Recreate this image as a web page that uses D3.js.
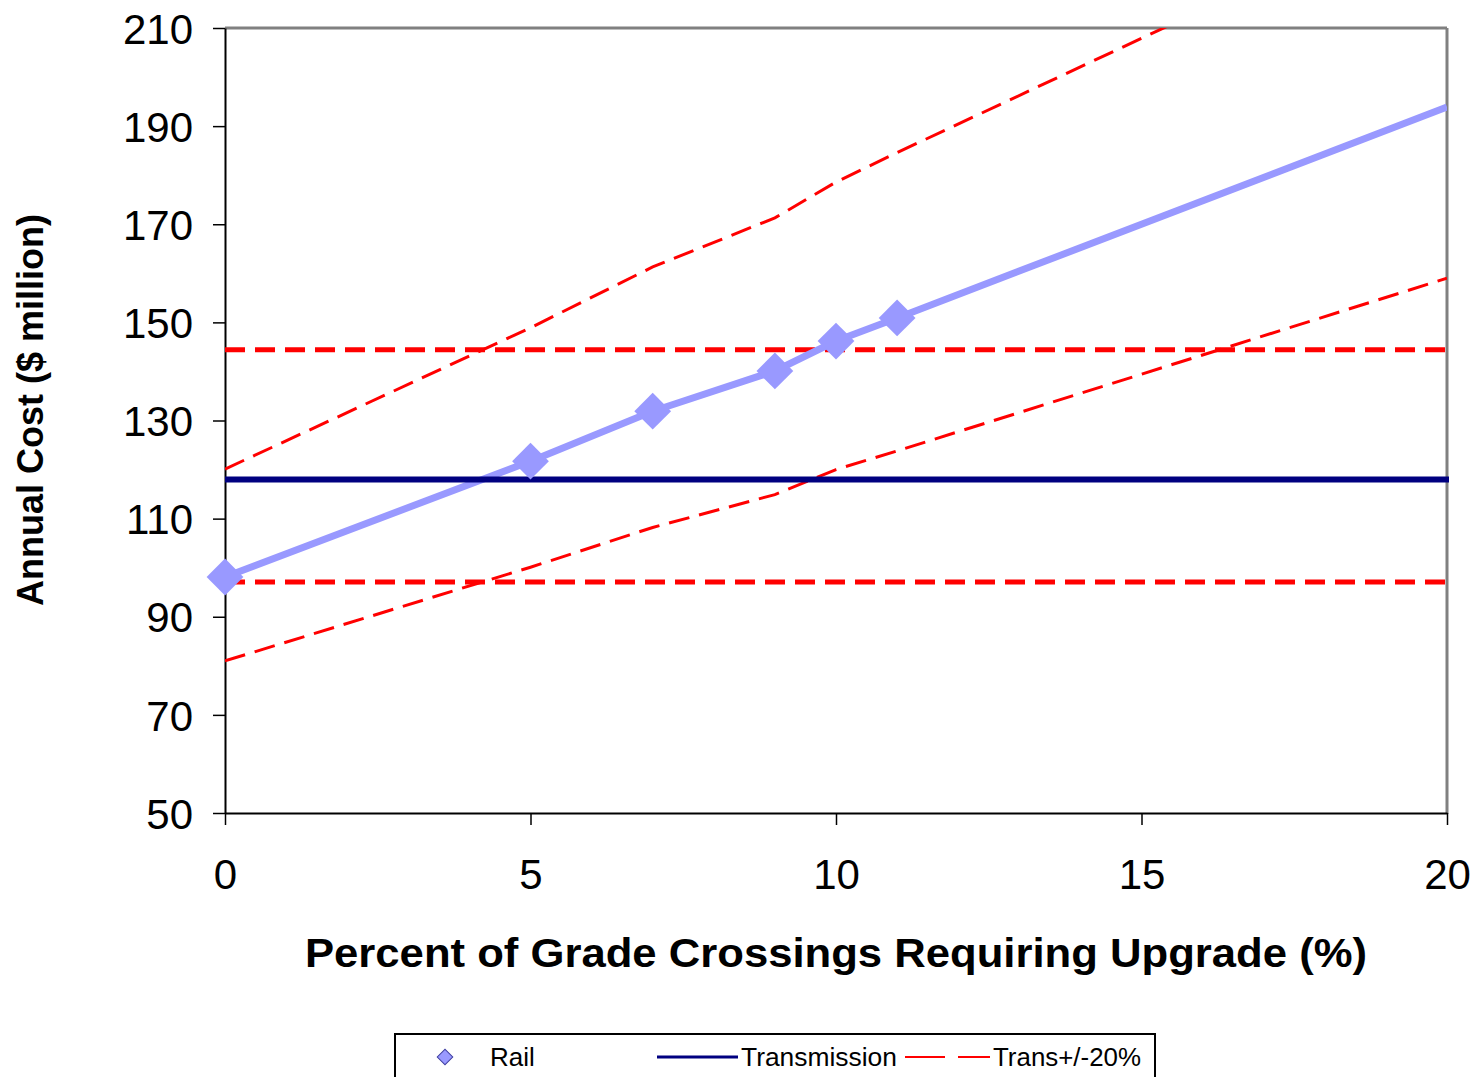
<!DOCTYPE html>
<html>
<head>
<meta charset="utf-8">
<script src="https://cdn.jsdelivr.net/npm/d3@7"></script>
<style>
body { margin: 0; background: #fff; }
svg { display: block; font-family: "Liberation Sans", Arial, sans-serif; }
</style>
</head>
<body>
<svg id="chart" width="1478" height="1077"></svg>
<script>
// data
var pct = [0, 5, 7, 9, 10, 11, 20];
var rail = [98.1, 121.7, 131.9, 140.1, 146.2, 150.9, 193.9];
var rail_markers = 6; // the point at 20 has no marker
var trans_up = [120.1, 148.9, 161.3, 171.3, 178.6, 184.6, 237.0];
var trans_down = [81.0, 100.1, 108.2, 114.9, 120.0, 123.8, 159.0];
var transmission = 118.0;
var trans_plus = 144.4;
var trans_minus = 97.1;
var x_ticks = [0, 5, 10, 15, 20];
var y_ticks = [50, 70, 90, 110, 130, 150, 170, 190, 210];

var svg = d3.select("#chart");
var x = d3.scaleLinear().domain([0, 20]).range([225, 1447]);
var y = d3.scaleLinear().domain([50, 210]).range([813, 28]);

svg.append("defs").append("clipPath").attr("id", "plot")
    .append("rect")
    .attr("x", x(0)).attr("y", y(210))
    .attr("width", x(20) - x(0)).attr("height", y(50) - y(210));

// plot frame, top and right in grey
svg.append("line")
    .attr("x1", x(0)).attr("y1", y(210)).attr("x2", x(20)).attr("y2", y(210))
    .attr("stroke", "#808080").attr("stroke-width", 3);
svg.append("line")
    .attr("x1", x(20)).attr("y1", y(210)).attr("x2", x(20)).attr("y2", y(50) + 1)
    .attr("stroke", "#808080").attr("stroke-width", 3);

// axes
var y_axis = d3.axisLeft(y).tickValues(y_ticks).tickSize(12).tickSizeOuter(0).tickPadding(20);
var x_axis = d3.axisBottom(x).tickValues(x_ticks).tickSize(12).tickSizeOuter(0).tickPadding(34);

var gy = svg.append("g").attr("transform", "translate(" + x(0) + ",0)").call(y_axis);
var gx = svg.append("g").attr("transform", "translate(0," + y(50) + ")").call(x_axis);
[gy, gx].forEach(function (g) {
    g.select(".domain").attr("stroke", "#000").attr("stroke-width", 2);
    g.selectAll(".tick line").attr("stroke", "#000").attr("stroke-width", 1.5);
    g.selectAll(".tick text")
        .attr("fill", "#000")
        .style("font-size", "42px")
        .style("font-family", "'Liberation Sans', Arial, sans-serif");
});
gy.selectAll(".tick text").attr("dy", "0.36em");
gx.selectAll(".tick text").attr("dy", "0.71em");

var plot = svg.append("g").attr("clip-path", "url(#plot)");

var line = d3.line()
    .x(function (d) { return x(d[0]); })
    .y(function (d) { return y(d[1]); });

// sloped +/- lines
[trans_up, trans_down].forEach(function (vals) {
    plot.append("path")
        .datum(d3.zip(pct, vals))
        .attr("d", line)
        .attr("fill", "none")
        .attr("stroke", "#ff0000")
        .attr("stroke-width", 3)
        .attr("stroke-dasharray", "21,10");
});

// flat +/- 20% lines
[trans_plus, trans_minus].forEach(function (v) {
    plot.append("line")
        .attr("x1", x(0)).attr("x2", x(20))
        .attr("y1", y(v)).attr("y2", y(v))
        .attr("stroke", "#ff0000")
        .attr("stroke-width", 5)
        .attr("stroke-dasharray", "20,10");
});

// transmission
svg.append("line")
    .attr("x1", x(0)).attr("x2", x(20) + 2)
    .attr("y1", y(transmission)).attr("y2", y(transmission))
    .attr("stroke", "#000080")
    .attr("stroke-width", 6);

// rail
plot.append("path")
    .datum(d3.zip(pct, rail))
    .attr("d", line)
    .attr("fill", "none")
    .attr("stroke", "#9999ff")
    .attr("stroke-width", 7);

var diamond = d3.symbol().type(d3.symbolSquare).size(26 * 26);
svg.selectAll(".rail-pt")
    .data(d3.zip(pct, rail).slice(0, rail_markers))
    .enter()
    .append("path")
    .attr("class", "rail-pt")
    .attr("d", diamond)
    .attr("transform", function (d) {
        return "translate(" + x(d[0]) + "," + y(d[1]) + ") rotate(45)";
    })
    .attr("fill", "#9999ff");

// axis titles
svg.append("text")
    .text("Annual Cost ($ million)")
    .attr("transform", "translate(43,410) rotate(-90)")
    .attr("text-anchor", "middle")
    .attr("font-weight", "bold")
    .attr("font-size", 36);

svg.append("text")
    .text("Percent of Grade Crossings Requiring Upgrade (%)")
    .attr("x", 836)
    .attr("y", 967)
    .attr("text-anchor", "middle")
    .attr("font-weight", "bold")
    .attr("font-size", 41)
    .attr("textLength", 1062)
    .attr("lengthAdjust", "spacingAndGlyphs");

// legend
var legend = svg.append("g");
legend.append("rect")
    .attr("x", 395).attr("y", 1034)
    .attr("width", 760).attr("height", 60)
    .attr("fill", "#fff")
    .attr("stroke", "#000")
    .attr("stroke-width", 2);

legend.append("path")
    .attr("d", d3.symbol().type(d3.symbolSquare).size(11 * 11))
    .attr("transform", "translate(445,1057) rotate(45)")
    .attr("fill", "#9999ff")
    .attr("stroke", "#4040a0")
    .attr("stroke-width", 1);
legend.append("text").text("Rail")
    .attr("x", 490).attr("y", 1066)
    .attr("font-size", 26);

legend.append("line")
    .attr("x1", 657).attr("x2", 738).attr("y1", 1057).attr("y2", 1057)
    .attr("stroke", "#000080").attr("stroke-width", 3);
legend.append("text").text("Transmission")
    .attr("x", 741).attr("y", 1066)
    .attr("font-size", 26)
    .attr("textLength", 156)
    .attr("lengthAdjust", "spacingAndGlyphs");

legend.append("line")
    .attr("x1", 905).attr("x2", 990).attr("y1", 1057).attr("y2", 1057)
    .attr("stroke", "#ff0000").attr("stroke-width", 2)
    .attr("stroke-dasharray", "40,13");
legend.append("text").text("Trans+/-20%")
    .attr("x", 993).attr("y", 1066)
    .attr("font-size", 26)
    .attr("textLength", 148)
    .attr("lengthAdjust", "spacingAndGlyphs");
</script>
</body>
</html>
